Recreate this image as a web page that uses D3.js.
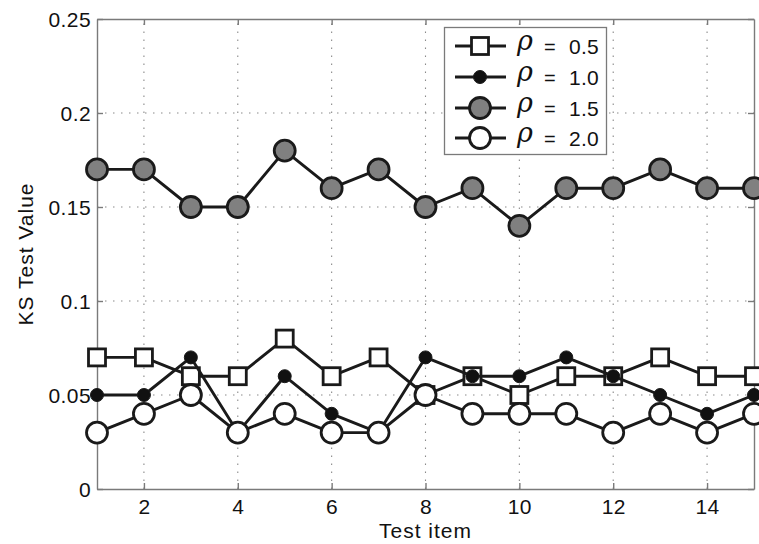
<!DOCTYPE html>
<html>
<head>
<meta charset="utf-8">
<script src="https://cdn.jsdelivr.net/npm/d3@7"></script>
<style>
  html, body { margin: 0; padding: 0; background: #fff; }
  svg { display: block; font-family: "Liberation Sans", Arial, Helvetica, sans-serif; }
</style>
</head>
<body>
<svg id="chart" width="759" height="544"></svg>
<script>
// Test items on the x axis
const items = [1, 2, 3, 4, 5, 6, 7, 8, 9, 10, 11, 12, 13, 14, 15];

// KS test values for each rho setting
const rho05 = [0.07, 0.07, 0.06, 0.06, 0.08, 0.06, 0.07, 0.05, 0.06, 0.05, 0.06, 0.06, 0.07, 0.06, 0.06];
const rho10 = [0.05, 0.05, 0.07, 0.03, 0.06, 0.04, 0.03, 0.07, 0.06, 0.06, 0.07, 0.06, 0.05, 0.04, 0.05];
const rho15 = [0.17, 0.17, 0.15, 0.15, 0.18, 0.16, 0.17, 0.15, 0.16, 0.14, 0.16, 0.16, 0.17, 0.16, 0.16];
const rho20 = [0.03, 0.04, 0.05, 0.03, 0.04, 0.03, 0.03, 0.05, 0.04, 0.04, 0.04, 0.03, 0.04, 0.03, 0.04];

const seriesLabels = ["0.5", "1.0", "1.5", "2.0"];
const xTicks = [2, 4, 6, 8, 10, 12, 14];
const yTicks = [0, 0.05, 0.1, 0.15, 0.2, 0.25];

const series = [
  { label: seriesLabels[0], values: rho05, marker: "square", fill: "#fff" },
  { label: seriesLabels[1], values: rho10, marker: "dot", fill: "#111" },
  { label: seriesLabels[2], values: rho15, marker: "circle", fill: "#808080" },
  { label: seriesLabels[3], values: rho20, marker: "circle", fill: "#fff" }
];

const svg = d3.select("#chart");
const m = { left: 97, right: 5, top: 19, bottom: 55 };
const W = 759, H = 544;
const x = d3.scaleLinear().domain([1, 15]).range([m.left, W - m.right]);
const y = d3.scaleLinear().domain([0, 0.25]).range([H - m.bottom, m.top]);

const axisColor = "#7a7a7a";
const inkColor = "#1a1a1a";
const textFont = "\"Liberation Sans\", Arial, sans-serif";

// dotted grid
const grid = svg.append("g");
grid.selectAll("line.gx").data(xTicks).join("line")
  .attr("x1", d => x(d)).attr("x2", d => x(d))
  .attr("y1", y(0)).attr("y2", y(0.25))
  .attr("stroke", "#8a8a8a").attr("stroke-width", 1.1).attr("stroke-dasharray", "1.5,6.5");
grid.selectAll("line.gy").data(yTicks.slice(1, -1)).join("line")
  .attr("x1", x(1)).attr("x2", x(15))
  .attr("y1", d => y(d)).attr("y2", d => y(d))
  .attr("stroke", "#8a8a8a").attr("stroke-width", 1.1).attr("stroke-dasharray", "1.5,6.5");

// axes with inward ticks on all four sides
const tickLen = 6;
const xAxis = svg.append("g").attr("transform", `translate(0,${y(0)})`)
  .call(d3.axisBottom(x).tickValues(xTicks).tickSizeInner(-tickLen).tickSizeOuter(0).tickPadding(10).tickFormat(d3.format("d")));
const yAxis = svg.append("g").attr("transform", `translate(${x(1)},0)`)
  .call(d3.axisLeft(y).tickValues(yTicks).tickSizeInner(-tickLen).tickSizeOuter(0).tickPadding(6).tickFormat(d => d === 0 ? "0" : d3.format("~g")(d)));
const xTop = svg.append("g").attr("transform", `translate(0,${y(0.25)})`)
  .call(d3.axisTop(x).tickValues(xTicks).tickSizeInner(-tickLen).tickSizeOuter(0).tickFormat(""));
const yRight = svg.append("g").attr("transform", `translate(${x(15)},0)`)
  .call(d3.axisRight(y).tickValues(yTicks).tickSizeInner(-tickLen).tickSizeOuter(0).tickFormat(""));

[xAxis, yAxis, xTop, yRight].forEach(g => {
  g.select(".domain").attr("stroke", axisColor).attr("stroke-width", 1.4);
  g.selectAll(".tick line").attr("stroke", axisColor).attr("stroke-width", 1.4);
  g.selectAll(".tick text").attr("fill", "#111")
    .style("font-size", "21px").style("letter-spacing", "0.4px").style("font-family", textFont);
});
xAxis.selectAll(".tick text").attr("dy", "0.72em");
yAxis.selectAll(".tick text").attr("dy", "0.36em");

// axis titles
svg.append("text").attr("x", x(8)).attr("y", 538).attr("text-anchor", "middle")
  .style("font-size", "21px").style("letter-spacing", "1px").attr("fill", "#111").text("Test item");
svg.append("text").attr("transform", `translate(33,${y(0.125)}) rotate(-90)`).attr("text-anchor", "middle")
  .style("font-size", "21px").style("letter-spacing", "1px").attr("fill", "#111").text("KS Test Value");

// marker drawing helper
function drawMarker(g, s, cx, cy) {
  if (s.marker === "square") {
    g.append("rect").attr("x", cx - 8.5).attr("y", cy - 8.5).attr("width", 17).attr("height", 17)
      .attr("fill", s.fill).attr("stroke", inkColor).attr("stroke-width", 2.8);
  } else if (s.marker === "dot") {
    g.append("circle").attr("cx", cx).attr("cy", cy).attr("r", 6.5)
      .attr("fill", s.fill).attr("stroke", inkColor).attr("stroke-width", 1);
  } else {
    g.append("circle").attr("cx", cx).attr("cy", cy).attr("r", 10.5)
      .attr("fill", s.fill).attr("stroke", inkColor).attr("stroke-width", 2.8);
  }
}

const line = d3.line().x((d, i) => x(items[i])).y(d => y(d));
const plot = svg.append("g");
series.forEach(s => {
  const g = plot.append("g");
  g.append("path").datum(s.values).attr("d", line)
    .attr("fill", "none").attr("stroke", inkColor).attr("stroke-width", 2.9).attr("stroke-linejoin", "round");
  s.values.forEach((v, i) => drawMarker(g, s, x(items[i]), y(v)));
});

// legend
const lg = svg.append("g");
lg.append("rect").attr("x", 444.5).attr("y", 27.5).attr("width", 162).attr("height", 127)
  .attr("fill", "#fff").attr("stroke", "#7a7a7a").attr("stroke-width", 1.3);
const rowY = [46, 77, 108, 138];
series.forEach((s, i) => {
  const cy = rowY[i];
  const g = lg.append("g");
  g.append("line").attr("x1", 455).attr("x2", 506).attr("y1", cy).attr("y2", cy)
    .attr("stroke", inkColor).attr("stroke-width", 2.9);
  drawMarker(g, s, 480, cy);
  g.append("text").attr("x", 517).attr("y", cy + 4).attr("fill", "#111")
    .style("font-family", "\"DejaVu Serif\", serif").style("font-style", "italic")
    .style("font-size", "27px").text("ρ");
  g.append("text").attr("x", 544).attr("y", cy + 8).attr("fill", "#111")
    .style("font-size", "20px").text("=");
  g.append("text").attr("x", 569).attr("y", cy + 8).attr("fill", "#111")
    .style("font-size", "21px").style("letter-spacing", "0.3px").text(s.label);
});
</script>
</body>
</html>
